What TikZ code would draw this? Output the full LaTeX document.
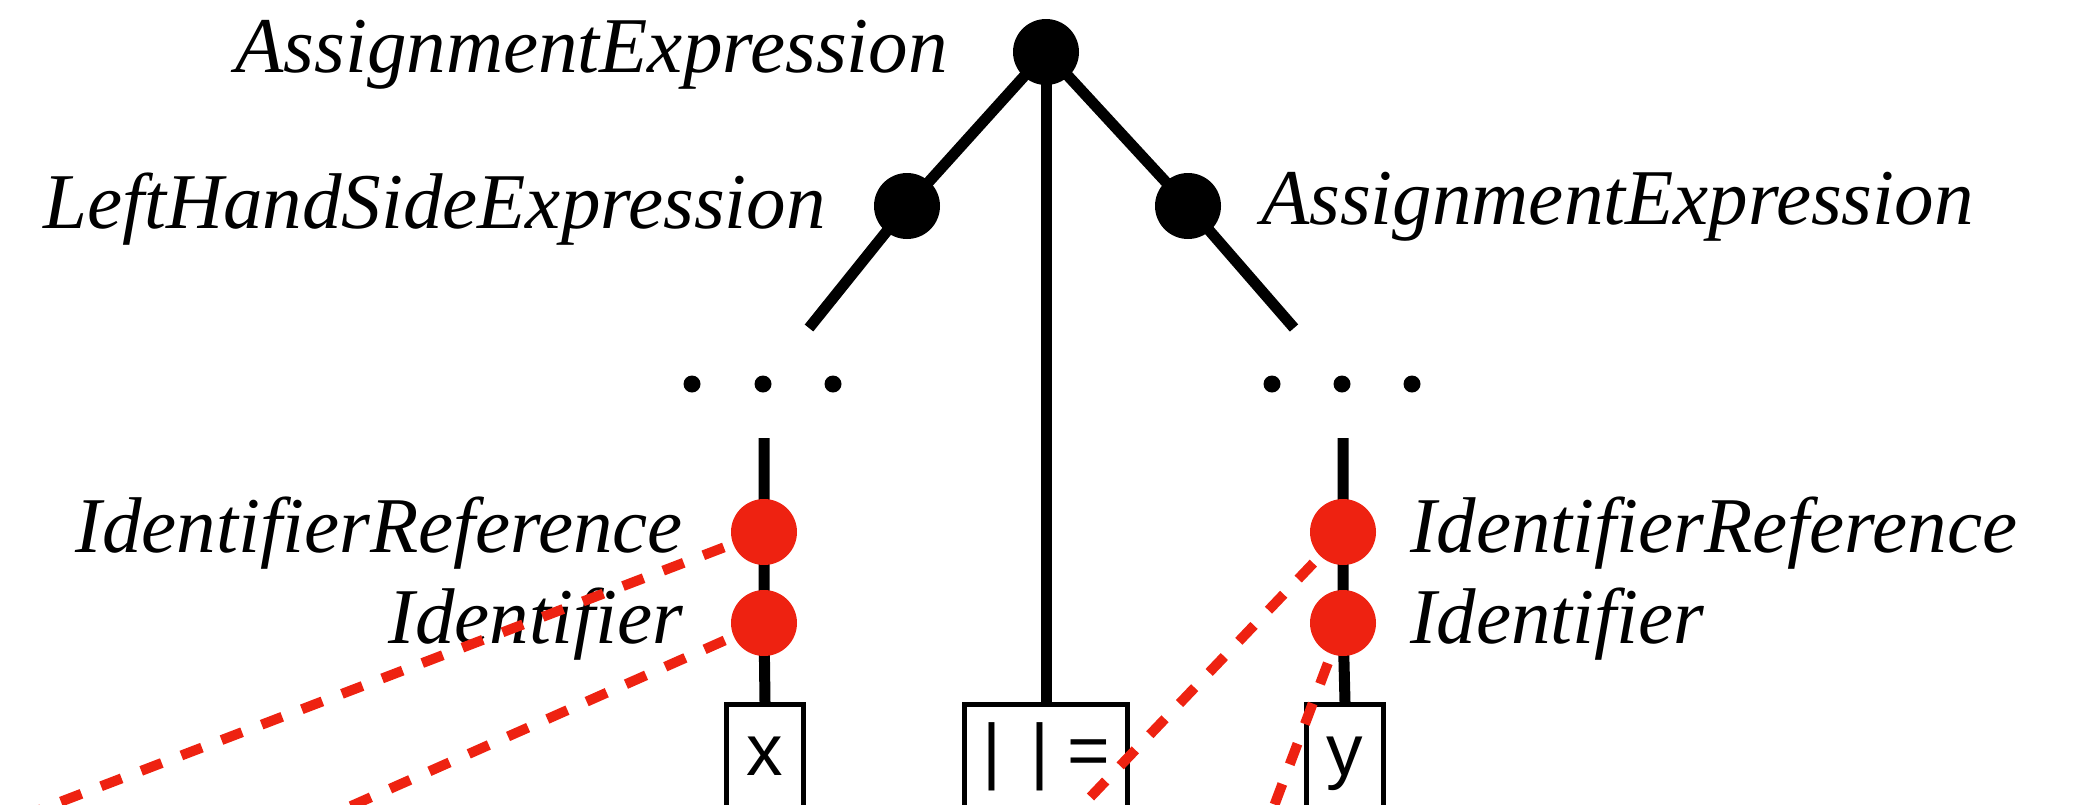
\documentclass[tikz,border=0pt]{standalone}
\usepackage{fontspec}
\setmainfont{Liberation Serif}
\newfontfamily\boxfont{Liberation Sans}
\pgfdeclarelayer{bg}
\pgfdeclarelayer{fg}
\pgfsetlayers{bg,main,fg}
\definecolor{hl}{RGB}{238,34,17}
\begin{document}
\begin{tikzpicture}[x=1pt,y=-1pt,
  bdot/.style={circle,fill=black,inner sep=0pt,minimum size=66pt},
  rdot/.style={circle,fill=hl,inner sep=0pt,minimum size=66pt},
  edot/.style={circle,fill=black,inner sep=0pt,minimum size=17pt},
  lbl/.style={inner sep=0pt,font=\fontsize{79}{90}\selectfont\itshape},
  tok/.style={draw,line width=5pt,inner xsep=0pt,inner ysep=0pt,
    text height=70.5pt,text depth=100pt,anchor=north,
    font=\fontsize{73}{80}\selectfont\boxfont},
  branch/.style={line width=11pt},
  reflink/.style={hl,line width=10pt,dash pattern=on 22pt off 21pt}
]
\useasboundingbox (0,0) rectangle (2075,804);
\clip (0,0) rectangle (2075,804);

% parse tree nodes
\node[bdot] (root) at (1046,52) {};
\node[bdot] (lhs) at (907,206) {};
\node[bdot] (rhs) at (1188,206) {};
\coordinate (lhsend) at (809,328);
\coordinate (rhsend) at (1294,328);

% elided levels
\node[edot] (l1) at (692,384) {};
\node[edot] (l2) at (763,384) {};
\node[edot] (l3) at (833,384) {};
\node[edot] (r1) at (1272,384) {};
\node[edot] (r2) at (1342,384) {};
\node[edot] (r3) at (1412,384) {};
\coordinate (ltop) at (764,438);
\coordinate (rtop) at (1343,438);

% nonterminal labels
\node[lbl,anchor=base east] (rootlbl) at (948,72) {AssignmentExpression};
\node[lbl,anchor=base east] (lhslbl) at (826,228) {LeftHandSideExpression};
\node[lbl,anchor=base west] (rhslbl) at (1261,224) {AssignmentExpression};
\node[lbl,anchor=base east] (lirlbl) at (683,552) {IdentifierReference};
\node[lbl,anchor=base east] (lidlbl) at (683,643) {Identifier};
\node[lbl,anchor=base west] (rirlbl) at (1410,552) {IdentifierReference};
\node[lbl,anchor=base west] (ridlbl) at (1410,643) {Identifier};

% terminal tokens
\node[tok,minimum width=77pt] (bx) at (765,702) {x};
\node[tok,minimum width=163pt] (bop) at (1046,702) {|\hspace{0.4em}|\hspace{0.25em}=};
\node[tok,minimum width=77pt] (by) at (1345,702) {y};

% highlighted identifier nodes
\begin{pgfonlayer}{fg}
\node[rdot] (lir) at (764,532) {};
\node[rdot] (lid) at (764,623) {};
\node[rdot] (rir) at (1343,532) {};
\node[rdot] (rid) at (1343,623) {};
\end{pgfonlayer}

% tree edges
\begin{pgfonlayer}{bg}
\draw[branch] (root.center) -- (lhs.center) -- (lhsend);
\draw[branch] (root.center) -- (rhs.center) -- (rhsend);
\draw[branch] (root.center) -- (bop.north);
\draw[branch] (ltop) -- (lir.center) -- (lid.center) -- (bx.north);
\draw[branch] (rtop) -- (rir.center) -- (rid.center) -- (by.north);
\end{pgfonlayer}

% links leaving the tree
\coordinate (e1) at (-13,830);
\coordinate (e2) at (297,830);
\coordinate (e3) at (1059,830);
\coordinate (e4) at (1265,830);
\draw[reflink] (lir.center) -- (e1);
\draw[reflink] (lid.center) -- (e2);
\draw[reflink] (rir.center) -- (e3);
\draw[reflink] (rid.center) -- (e4);
\end{tikzpicture}
\end{document}
